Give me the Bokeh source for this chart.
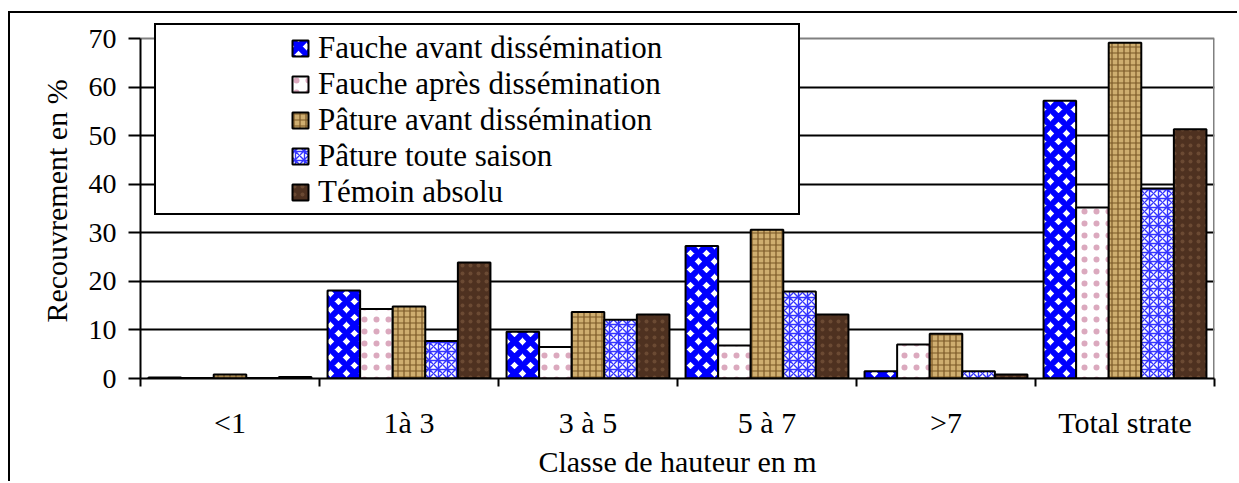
from bokeh.plotting import figure
from bokeh.models import ColumnDataSource, FixedTicker, Legend, LegendItem, Range1d, Grid
from bokeh.transform import dodge
from bokeh.embed import file_html
from bokeh.resources import INLINE

categories = ["<1", "1à 3", "3 à 5", "5 à 7", ">7", "Total strate"]
series_names = ["Fauche avant dissémination", "Fauche après dissémination",
                "Pâture avant dissémination", "Pâture toute saison", "Témoin absolu"]
fauche_avant = [0.2, 18.1, 9.6, 27.3, 1.5, 57.2]
fauche_apres = [0.1, 14.3, 6.5, 6.8, 7.0, 35.2]
pature_avant = [0.8, 14.8, 13.7, 30.6, 9.2, 69.1]
pature_toute = [0.1, 7.7, 12.1, 17.9, 1.5, 39.1]
temoin = [0.3, 23.9, 13.2, 13.2, 0.8, 51.3]
y_ticks = [0, 10, 20, 30, 40, 50, 60, 70]

FONT = "Liberation Serif"

data = {"x": [i + 0.5 for i in range(len(categories))],
        "s0": fauche_avant, "s1": fauche_apres, "s2": pature_avant,
        "s3": pature_toute, "s4": temoin}
source = ColumnDataSource(data)

# frame: 340 px for 0..70, extended 15 px above so the legend box is not clipped
y_top = y_ticks[-1] * 355 / 340

p = figure(width=1229, height=470, output_backend="svg", toolbar_location=None,
           x_range=Range1d(0, len(categories)), y_range=Range1d(0, y_top),
           min_border_left=130, min_border_right=25, min_border_top=10, min_border_bottom=105)
p.styles = {"border-top": "2px solid black", "border-left": "2px solid black",
            "margin-left": "8px", "margin-top": "11px"}

styles = [
    dict(fill_color="white", hatch_pattern="diagonal_cross", hatch_color="#0000ff",
         hatch_scale=16, hatch_weight=6),
    dict(fill_color="white", hatch_pattern="dot", hatch_color="#b0406e",
         hatch_scale=12, hatch_alpha=0.45),
    dict(fill_color="#cfae70", hatch_pattern="cross", hatch_color="#7a5726",
         hatch_scale=6, hatch_weight=1.2),
    dict(fill_color="white", hatch_pattern="criss_cross", hatch_color="#3535ff",
         hatch_scale=9, hatch_weight=1.4),
    dict(fill_color="#4e3120", hatch_pattern="dot", hatch_color="#6b4a33",
         hatch_scale=8, hatch_weight=2),
]
bw = 0.182
offsets = [-2 * bw, -bw, 0, bw, 2 * bw]
renderers = []
for k in range(5):
    r = p.vbar(x=dodge("x", offsets[k]), top="s%d" % k, width=bw, bottom=0, source=source,
               line_color="black", line_width=2, **styles[k])
    renderers.append(r)

# grid & plot-area border
p.xgrid.visible = False
p.ygrid.ticker = FixedTicker(ticks=y_ticks[1:-1])
p.ygrid.grid_line_color = "black"
p.ygrid.grid_line_width = 2
p.outline_line_color = None
top_line = Grid(dimension=1, ticker=FixedTicker(ticks=[y_ticks[-1]]),
                grid_line_color="#808080", grid_line_width=2)
p.add_layout(top_line, "center")
p.segment(x0=[len(categories)], y0=[y_ticks[0]], x1=[len(categories)], y1=[y_ticks[-1]],
          line_color="#808080", line_width=3)

# y axis
p.yaxis.ticker = FixedTicker(ticks=y_ticks)
p.yaxis.bounds = (y_ticks[0], y_ticks[-1])
p.yaxis.axis_line_width = 2
p.yaxis.major_tick_line_width = 2
p.yaxis.major_tick_out = 12
p.yaxis.major_tick_in = 0
p.yaxis.minor_tick_line_color = None
p.yaxis.major_label_standoff = 12
p.yaxis.major_label_text_font = FONT
p.yaxis.major_label_text_font_size = "28px"
p.yaxis.major_label_text_color = "black"
p.yaxis.axis_label = "Recouvrement en %"
p.yaxis.axis_label_text_font = FONT
p.yaxis.axis_label_text_font_size = "30px"
p.yaxis.axis_label_text_font_style = "normal"
p.yaxis.axis_label_text_color = "black"
p.yaxis.axis_label_standoff = 13

# x axis
xt = FixedTicker(ticks=data["x"], minor_ticks=list(range(len(categories) + 1)))
p.xaxis.ticker = xt
p.xaxis.major_label_overrides = {data["x"][i]: categories[i] for i in range(len(categories))}
p.xaxis.axis_line_width = 2
p.xaxis.major_tick_line_color = None
p.xaxis.major_tick_out = 0
p.xaxis.major_tick_in = 0
p.xaxis.minor_tick_line_color = "black"
p.xaxis.minor_tick_line_width = 2
p.xaxis.minor_tick_out = 8
p.xaxis.minor_tick_in = 0
p.xaxis.major_label_standoff = 19
p.xaxis.major_label_text_font = FONT
p.xaxis.major_label_text_font_size = "30px"
p.xaxis.major_label_text_color = "black"
p.xaxis.axis_label = "Classe de hauteur en m"
p.xaxis.axis_label_text_font = FONT
p.xaxis.axis_label_text_font_size = "30px"
p.xaxis.axis_label_text_font_style = "normal"
p.xaxis.axis_label_text_color = "black"
p.xaxis.axis_label_standoff = 3

# legend box (drawn first)
dummy = p.vbar(x=[], top=[], width=0.1, fill_alpha=0, line_alpha=0)
box = Legend(items=[LegendItem(label=" ", renderers=[dummy])], location=(14, 163),
             padding=0, spacing=0, margin=0, glyph_width=1, glyph_height=1, label_standoff=0,
             label_width=641, label_height=188, label_text_font_size="1px",
             border_line_color="black", border_line_width=2, border_line_alpha=1,
             background_fill_color="white", background_fill_alpha=1)
p.add_layout(box, "center")

legend = Legend(items=[LegendItem(label=series_names[k], renderers=[renderers[k]]) for k in range(5)],
                location=(150, 168), padding=0, spacing=0, margin=0,
                glyph_width=20, glyph_height=20, label_standoff=8, label_height=36,
                label_text_font=FONT, label_text_font_size="31px", label_text_color="black",
                border_line_color=None, background_fill_alpha=0)
p.add_layout(legend, "center")

open("out.html", "w").write(file_html(p, INLINE))
